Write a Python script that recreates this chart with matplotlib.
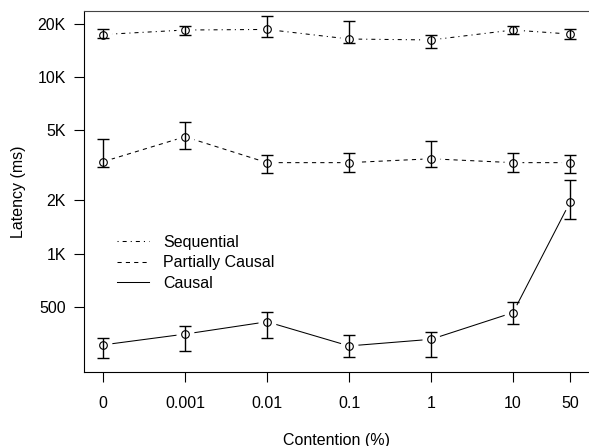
import numpy as np
import matplotlib
matplotlib.use("Agg")
import matplotlib.pyplot as plt
from matplotlib.ticker import FixedLocator, FixedFormatter, NullLocator

plt.rcParams['font.family'] = ['Liberation Sans', 'DejaVu Sans']
plt.rcParams['font.size'] = 11.5
plt.rcParams['lines.scale_dashes'] = False

contention = [0, 0.001, 0.01, 0.1, 1, 10, 50]
contention_labels = ['0', '0.001', '0.01', '0.1', '1', '10', '50']

seq_mean = [17500, 18560, 18700, 16500, 16300, 18560, 17600]
seq_lo = [16650, 17500, 17000, 15700, 14700, 17700, 16600]
seq_hi = [18800, 19560, 22400, 20960, 17400, 19500, 18700]

pc_mean = [3320, 4600, 3280, 3280, 3450, 3280, 3280]
pc_lo = [3090, 3900, 2850, 2890, 3090, 2890, 2850]
pc_hi = [4470, 5600, 3630, 3710, 4370, 3710, 3630]

c_mean = [303, 349, 410, 299, 326, 462, 1970]
c_lo = [255, 281, 333, 259, 259, 398, 1564]
c_hi = [333, 388, 468, 344, 360, 531, 2614]

y_ticks = [500, 1000, 2000, 5000, 10000, 20000]
y_tick_labels = ['500', '1K', '2K', '5K', '10K', '20K']

# zero contention sits one decade left of 0.001 on the log axis
x = np.array([c if c > 0 else 1e-4 for c in contention])

fig = plt.figure(figsize=(5.89, 4.46), dpi=100)
W, H = 589, 446
ax = fig.add_axes([84 / W, 1 - 372 / H, 505 / W, 361 / H])
ax.set_xscale('log')
ax.set_yscale('log')
ax.set_xlim(10 ** -4.2317, 10 ** 1.9268)
ax.set_ylim(10 ** 2.3277, 10 ** 4.3765)

series = [
    ('Sequential', seq_mean, seq_lo, seq_hi, (0, (0.8, 2.9, 2.9, 2.9))),
    ('Partially Causal', pc_mean, pc_lo, pc_hi, (0, (3.0, 3.0))),
    ('Causal', c_mean, c_lo, c_hi, '-'),
]

for name, mean, lo, hi, ls in series:
    mean = np.array(mean)
    yerr = [mean - np.array(lo), np.array(hi) - mean]
    ax.plot(x, mean, color='black', lw=0.75, ls=ls, label=name, zorder=1)
    # white blobs give the R type="b" gaps around the points
    ax.plot(x, mean, ls='none', marker='o', ms=12, mfc='white', mec='white', zorder=2)
    ax.errorbar(x, mean, yerr=yerr, fmt='none', ecolor='black', elinewidth=1.0,
                capsize=4, capthick=1.0, zorder=3)
    ax.plot(x, mean, ls='none', marker='o', ms=5.5, mfc='none', mec='black',
            mew=0.8, zorder=4)

ax.xaxis.set_major_locator(FixedLocator(x))
ax.xaxis.set_major_formatter(FixedFormatter(contention_labels))
ax.xaxis.set_minor_locator(NullLocator())
ax.yaxis.set_major_locator(FixedLocator(y_ticks))
ax.yaxis.set_major_formatter(FixedFormatter(y_tick_labels))
ax.yaxis.set_minor_locator(NullLocator())
ax.tick_params(axis='both', length=7, width=0.8, color='black')
ax.tick_params(axis='x', pad=10)
ax.tick_params(axis='y', pad=6)

ax.spines['right'].set_visible(False)
for side in ['top', 'left', 'bottom']:
    ax.spines[side].set_linewidth(0.8)
ax.spines['top'].set_color('#444444')

ax.set_xlabel('Contention (%)')
ax.xaxis.label.set_va('center')
ax.xaxis.set_label_coords(0.5, (372 - 440) / 361)
ax.set_ylabel('Latency (ms)')
ax.yaxis.label.set_va('center')
ax.yaxis.set_label_coords((18 - 84) / 505, 0.5)

ax.legend(loc='upper left', bbox_to_anchor=(117 / W, 1 - 235 / H),
          bbox_transform=fig.transFigure, frameon=False, borderpad=0,
          borderaxespad=0, handlelength=2.0, handletextpad=0.9,
          labelspacing=0.33)

fig.savefig('out.png', dpi=100)
